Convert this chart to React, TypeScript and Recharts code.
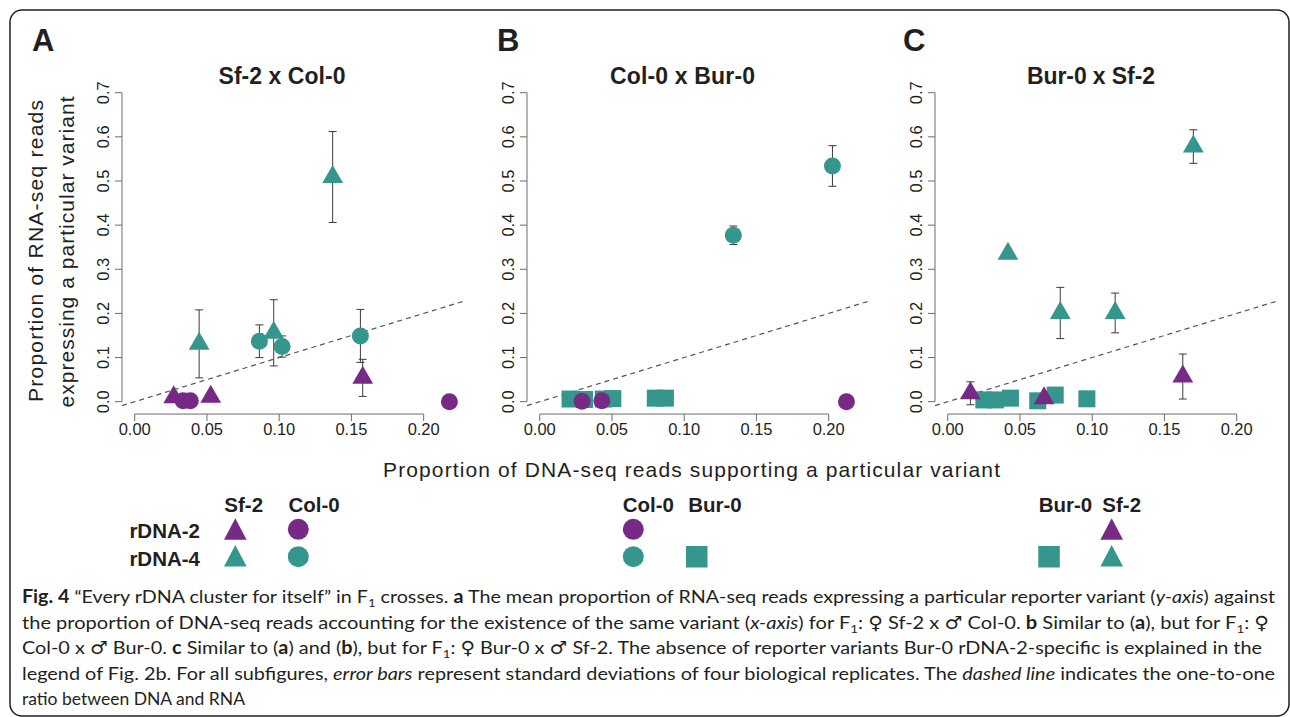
import React from 'react';
import { ScatterChart, Scatter, XAxis, YAxis, ReferenceLine, ErrorBar } from 'recharts';

const TEAL = '#34968c';
const PURPLE = '#772a85';
const INK = '#231f20';
const AXIS = '#6b6b6b';
const BAR = '#3a3a3a';
const SANS = '"Liberation Sans", Arial, Helvetica, sans-serif';
const CAPTION_FONT = 'Lato, "Open Sans", "DejaVu Sans", sans-serif';

// axes (R style: 4% padding around 0..0.22 and 0..0.7)
const X_TICKS = [0, 0.05, 0.1, 0.15, 0.2];
const Y_TICKS = [0, 0.1, 0.2, 0.3, 0.4, 0.5, 0.6, 0.7];
const X_DOMAIN: [number, number] = [-0.0088, 0.2288];
const Y_DOMAIN: [number, number] = [-0.028, 0.728];

// dna = proportion of DNA-seq reads, rna = proportion of RNA-seq reads, sd = std dev
// A: Sf-2 x Col-0
const aSf2Rdna4 = [
  { dna: 0.0446, rna: 0.131, sd: 0.077 },
  { dna: 0.0962, rna: 0.156, sd: 0.075 },
  { dna: 0.137, rna: 0.509, sd: 0.103 },
];
const aCol0Rdna4 = [
  { dna: 0.0863, rna: 0.137, sd: 0.037 },
  { dna: 0.102, rna: 0.125, sd: 0.024 },
  { dna: 0.1562, rna: 0.149, sd: 0.06 },
];
const aSf2Rdna2 = [
  { dna: 0.027, rna: 0.01, sd: 0 },
  { dna: 0.0526, rna: 0.011, sd: 0.005 },
  { dna: 0.1578, rna: 0.054, sd: 0.042 },
];
const aCol0Rdna2 = [
  { dna: 0.0335, rna: 0.002, sd: 0 },
  { dna: 0.0385, rna: 0.002, sd: 0 },
  { dna: 0.2178, rna: 0.0, sd: 0 },
];

// B: Col-0 x Bur-0
const bBur0Rdna4 = [
  { dna: 0.021, rna: 0.006, sd: 0 },
  { dna: 0.031, rna: 0.005, sd: 0 },
  { dna: 0.044, rna: 0.006, sd: 0.003 },
  { dna: 0.0506, rna: 0.007, sd: 0.002 },
  { dna: 0.08, rna: 0.008, sd: 0.002 },
  { dna: 0.087, rna: 0.008, sd: 0.002 },
];
const bCol0Rdna4 = [
  { dna: 0.134, rna: 0.377, sd: 0.021 },
  { dna: 0.2026, rna: 0.534, sd: 0.046 },
];
const bCol0Rdna2 = [
  { dna: 0.0293, rna: 0.001, sd: 0 },
  { dna: 0.043, rna: 0.002, sd: 0.003 },
  { dna: 0.2123, rna: 0.0, sd: 0 },
];

// C: Bur-0 x Sf-2
const cBur0Rdna4 = [
  { dna: 0.025, rna: 0.004, sd: 0.001 },
  { dna: 0.033, rna: 0.004, sd: 0.002 },
  { dna: 0.0434, rna: 0.008, sd: 0.011 },
  { dna: 0.0623, rna: 0.002, sd: 0 },
  { dna: 0.0744, rna: 0.015, sd: 0.014 },
  { dna: 0.0963, rna: 0.0065, sd: 0.0075 },
];
const cSf2Rdna2 = [
  { dna: 0.0157, rna: 0.019, sd: 0.026 },
  { dna: 0.0667, rna: 0.008, sd: 0.009 },
  { dna: 0.1627, rna: 0.057, sd: 0.051 },
];
const cSf2Rdna4 = [
  { dna: 0.0417, rna: 0.335, sd: null },
  { dna: 0.0779, rna: 0.201, sd: 0.058 },
  { dna: 0.1159, rna: 0.201, sd: 0.045 },
  { dna: 0.17, rna: 0.578, sd: 0.038 },
];

type Pt = { dna: number; rna: number; sd: number | null };
type Kind = 'tri' | 'circle' | 'square';

const marker = (kind: Kind, fill: string) => (p: any) => {
  const { cx, cy } = p;
  if (cx == null || cy == null) return <g />;
  if (kind === 'tri') {
    const r = 12;
    return (
      <path
        d={`M${cx},${cy - r}L${cx + r * 0.866},${cy + r / 2}L${cx - r * 0.866},${cy + r / 2}Z`}
        fill={fill}
      />
    );
  }
  if (kind === 'square') return <rect x={cx - 8.5} y={cy - 8.5} width={17} height={17} fill={fill} />;
  return <circle cx={cx} cy={cy} r={8.5} fill={fill} />;
};

const YTick = (p: any) => {
  const { x, y, payload } = p;
  return (
    <text
      transform={`translate(${x},${y}) rotate(-90)`}
      textAnchor="middle"
      fontSize={16.5}
      fill={INK}
      fontFamily={SANS}
    >
      {Number(payload.value).toFixed(1)}
    </text>
  );
};

const PLOT_W = 343.3;

function Panel({ left, groups }: { left: number; groups: { data: Pt[]; kind: Kind; fill: string }[] }) {
  return (
    <div style={{ position: 'absolute', left: left - 60, top: 0 }}>
      <ScatterChart
        width={60 + PLOT_W + 10}
        height={460}
        margin={{ top: 80.35, right: 10, bottom: 5.95, left: 0 }}
      >
        <XAxis
          type="number"
          dataKey="dna"
          domain={X_DOMAIN}
          ticks={X_TICKS}
          allowDataOverflow
          interval={0}
          axisLine={false}
          tickLine={{ stroke: AXIS }}
          tickSize={7}
          tickMargin={2}
          height={40}
          tick={{ fontSize: 16.5, fill: INK, fontFamily: SANS }}
          tickFormatter={(v: number) => v.toFixed(2)}
        />
        <YAxis
          type="number"
          dataKey="rna"
          domain={Y_DOMAIN}
          ticks={Y_TICKS}
          allowDataOverflow
          interval={0}
          axisLine={false}
          tickLine={{ stroke: AXIS }}
          tickSize={7}
          tickMargin={5.5}
          width={60}
          tick={(p: any) => <YTick {...p} />}
        />
        {/* R-style axis lines spanning first to last tick */}
        <ReferenceLine
          segment={[{ x: X_TICKS[0], y: Y_DOMAIN[0] }, { x: X_TICKS[X_TICKS.length - 1], y: Y_DOMAIN[0] }]}
          stroke={AXIS}
          ifOverflow="visible"
        />
        <ReferenceLine
          segment={[{ x: X_DOMAIN[0], y: Y_TICKS[0] }, { x: X_DOMAIN[0], y: Y_TICKS[Y_TICKS.length - 1] }]}
          stroke={AXIS}
          ifOverflow="visible"
        />
        {/* one-to-one ratio */}
        <ReferenceLine
          segment={[{ x: X_DOMAIN[0], y: X_DOMAIN[0] }, { x: X_DOMAIN[1], y: X_DOMAIN[1] }]}
          stroke="#555"
          strokeWidth={1.2}
          strokeDasharray="5 4"
          ifOverflow="visible"
        />
        {groups.map((g, i) => (
          <Scatter key={`pts-${i}`} data={g.data} shape={marker(g.kind, g.fill)} isAnimationActive={false} />
        ))}
        {groups.map((g, i) => (
          <Scatter
            key={`err-${i}`}
            data={g.data.filter((d) => d.sd != null)}
            shape={() => <g />}
            isAnimationActive={false}
          >
            <ErrorBar dataKey="sd" direction="y" width={4} stroke={BAR} strokeWidth={1} isAnimationActive={false} />
          </Scatter>
        ))}
      </ScatterChart>
    </div>
  );
}

type Seg = { t: string; b?: boolean; i?: boolean; sub?: boolean };
const CAPTION_LINES: Seg[][] = [
  [
    { t: 'Fig. 4', b: true },
    { t: ' \u201cEvery rDNA cluster for itself\u201d in F' },
    { t: '1', sub: true },
    { t: ' crosses. ' },
    { t: 'a', b: true },
    { t: ' The mean proportion of RNA-seq reads expressing a particular reporter variant (' },
    { t: 'y-axis', i: true },
    { t: ') against' },
  ],
  [
    { t: 'the proportion of DNA-seq reads accounting for the existence of the same variant (' },
    { t: 'x-axis', i: true },
    { t: ') for F' },
    { t: '1', sub: true },
    { t: ': \u2640 Sf-2 x \u2642 Col-0. ' },
    { t: 'b', b: true },
    { t: ' Similar to (' },
    { t: 'a', b: true },
    { t: '), but for F' },
    { t: '1', sub: true },
    { t: ': \u2640' },
  ],
  [
    { t: 'Col-0 x \u2642 Bur-0. ' },
    { t: 'c', b: true },
    { t: ' Similar to (' },
    { t: 'a', b: true },
    { t: ') and (' },
    { t: 'b', b: true },
    { t: '), but for F' },
    { t: '1', sub: true },
    { t: ': \u2640 Bur-0 x \u2642 Sf-2. The absence of reporter variants Bur-0 rDNA-2-specific is explained in the' },
  ],
  [
    { t: 'legend of Fig. 2b. For all subfigures, ' },
    { t: 'error bars', i: true },
    { t: ' represent standard deviations of four biological replicates. The ' },
    { t: 'dashed line', i: true },
    { t: ' indicates the one-to-one' },
  ],
  [{ t: 'ratio between DNA and RNA' }],
];
const CAPTION_WIDTHS = [1253, 1247, 1240, 1253, 223];

function CaptionLine({ segs, y, width }: { segs: Seg[]; y: number; width: number }) {
  let shift = 0;
  return (
    <text
      x={22}
      y={y}
      fontSize={18}
      fontFamily={CAPTION_FONT}
      fill={INK}
      textLength={width}
      lengthAdjust="spacingAndGlyphs"
    >
      {segs.map((s, k) => {
        let dy = 0;
        if (s.sub) {
          dy = 4;
          shift = 4;
        } else if (shift) {
          dy = -shift;
          shift = 0;
        }
        return (
          <tspan
            key={k}
            dy={dy || undefined}
            fontWeight={s.b ? 700 : 400}
            fontStyle={s.i ? 'italic' : 'normal'}
            fontSize={s.sub ? 12 : undefined}
          >
            {s.t}
          </tspan>
        );
      })}
    </text>
  );
}

const Tri = ({ x, y, fill }: { x: number; y: number; fill: string }) => (
  <path d={`M${x},${y - 11}L${x + 11.3},${y + 10.5}L${x - 11.3},${y + 10.5}Z`} fill={fill} />
);

function Decor() {
  const bold = { fontFamily: SANS, fontWeight: 700, fill: INK } as const;
  return (
    <svg width={1290} height={717} style={{ position: 'absolute', left: 0, top: 0 }}>
      <rect x={10} y={10} width={1279} height={706} rx={12} fill="none" stroke={INK} strokeWidth={1.5} />
      <text x={32} y={51} fontSize={31} {...bold}>A</text>
      <text x={497} y={51} fontSize={31} {...bold}>B</text>
      <text x={903} y={51} fontSize={31} {...bold}>C</text>
      <text x={282} y={84} fontSize={23} textAnchor="middle" textLength={127} {...bold}>Sf-2 x Col-0</text>
      <text x={682.5} y={84} fontSize={23} textAnchor="middle" textLength={145} {...bold}>Col-0 x Bur-0</text>
      <text x={1091} y={84} fontSize={23} textAnchor="middle" textLength={128} {...bold}>Bur-0 x Sf-2</text>

      <g fontFamily={SANS} fill={INK} fontSize={21}>
        <text transform="translate(43,251) rotate(-90)" textAnchor="middle" textLength={302}>
          Proportion of RNA-seq reads
        </text>
        <text transform="translate(73.5,252) rotate(-90)" textAnchor="middle" textLength={311}>
          expressing a particular variant
        </text>
        <text x={691.5} y={477} textAnchor="middle" textLength={617}>
          Proportion of DNA-seq reads supporting a particular variant
        </text>
      </g>

      {/* legend */}
      <g fontSize={20.5} {...bold}>
        <text x={200} y={538} textAnchor="end">rDNA-2</text>
        <text x={200} y={566} textAnchor="end">rDNA-4</text>
        <text x={243.7} y={512} textAnchor="middle">Sf-2</text>
        <text x={314} y={512} textAnchor="middle">Col-0</text>
        <text x={648.3} y={512} textAnchor="middle">Col-0</text>
        <text x={715} y={512} textAnchor="middle">Bur-0</text>
        <text x={1065.5} y={512} textAnchor="middle">Bur-0</text>
        <text x={1121.7} y={512} textAnchor="middle">Sf-2</text>
      </g>
      <Tri x={235.3} y={529.3} fill={PURPLE} />
      <Tri x={235.3} y={556} fill={TEAL} />
      <circle cx={298.3} cy={529.3} r={10.5} fill={PURPLE} />
      <circle cx={298.3} cy={556.7} r={10.5} fill={TEAL} />
      <circle cx={633.3} cy={529.3} r={10.5} fill={PURPLE} />
      <circle cx={633.3} cy={556.7} r={10.5} fill={TEAL} />
      <rect x={686} y={546} width={21.5} height={21.5} fill={TEAL} />
      <rect x={1038.3} y={546} width={21.5} height={21.5} fill={TEAL} />
      <Tri x={1111.7} y={529.3} fill={PURPLE} />
      <Tri x={1111.7} y={556} fill={TEAL} />

      {CAPTION_LINES.map((segs, k) => (
        <CaptionLine key={k} segs={segs} y={603 + k * 25.6} width={CAPTION_WIDTHS[k]} />
      ))}
    </svg>
  );
}

export default function App() {
  return (
    <div style={{ position: 'absolute', left: 0, top: 0, width: 1290, height: 717, background: '#fff', overflow: 'hidden' }}>
      <Decor />
      <Panel
        left={121.6}
        groups={[
          { data: aSf2Rdna4, kind: 'tri', fill: TEAL },
          { data: aCol0Rdna4, kind: 'circle', fill: TEAL },
          { data: aSf2Rdna2, kind: 'tri', fill: PURPLE },
          { data: aCol0Rdna2, kind: 'circle', fill: PURPLE },
        ]}
      />
      <Panel
        left={526.6}
        groups={[
          { data: bBur0Rdna4, kind: 'square', fill: TEAL },
          { data: bCol0Rdna4, kind: 'circle', fill: TEAL },
          { data: bCol0Rdna2, kind: 'circle', fill: PURPLE },
        ]}
      />
      <Panel
        left={934.6}
        groups={[
          { data: cBur0Rdna4, kind: 'square', fill: TEAL },
          { data: cSf2Rdna2, kind: 'tri', fill: PURPLE },
          { data: cSf2Rdna4, kind: 'tri', fill: TEAL },
        ]}
      />
    </div>
  );
}
